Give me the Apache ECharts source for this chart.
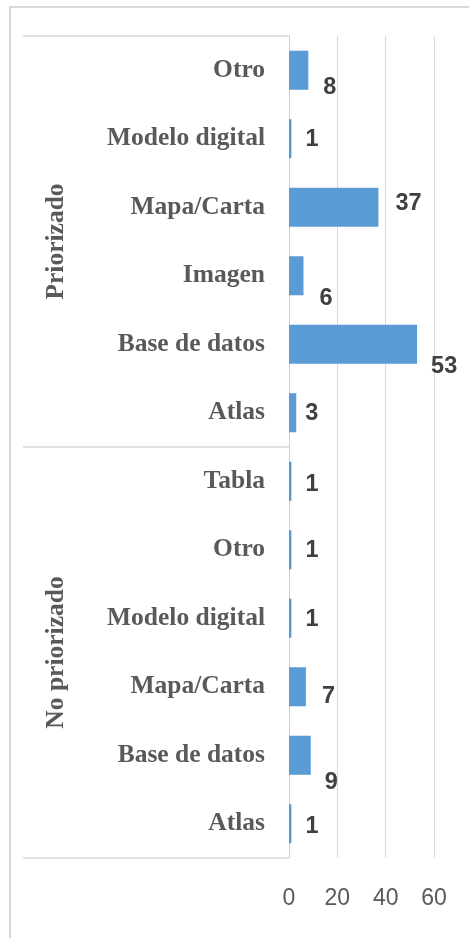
<!DOCTYPE html>
<html>
<head>
<meta charset="utf-8">
<script src="https://cdn.jsdelivr.net/npm/echarts@6/dist/echarts.min.js"></script>
<style>html,body{margin:0;padding:0;background:#fff}#c{width:469px;height:938px}</style>
</head>
<body>
<div id="c"></div>
<script>
// Data (bottom to top, as drawn by the category axis)
var groups = ['No priorizado', 'Priorizado'];
var subNo = ['Atlas', 'Base de datos', 'Mapa/Carta', 'Modelo digital', 'Otro', 'Tabla'];
var valuesNo = [1, 9, 7, 1, 1, 1];
var subP = ['Atlas', 'Base de datos', 'Imagen', 'Mapa/Carta', 'Modelo digital', 'Otro'];
var valuesP = [3, 53, 6, 37, 1, 8];
var xTicks = [0, 20, 40, 60];

// label placement tweaks (style only)
var labelOffsets = [[14,3],[14,27],[16,10],[14,1],[14,1],[14,3],[9,1],[14,22],[16,23],[17,-4],[14,1],[15,17]];

var cats = subNo.map(function(s){return 'N|' + s;}).concat(subP.map(function(s){return 'P|' + s;}));
var vals = valuesNo.concat(valuesP);
var seriesData = vals.map(function(v, i){
  return {value: v, label: {offset: labelOffsets[i]}};
});

var chart = echarts.init(document.getElementById('c'));
chart.setOption({
  animation: false,
  backgroundColor: '#ffffff',
  grid: {left: 289, right: 35, top: 36, bottom: 80, containLabel: false},
  xAxis: {
    type: 'value', min: xTicks[0], max: xTicks[xTicks.length - 1], interval: xTicks[1] - xTicks[0],
    axisLine: {show: false}, axisTick: {show: false},
    splitLine: {lineStyle: {color: '#d9d9d9', width: 1}},
    axisLabel: {fontFamily: 'Liberation Sans, Arial, sans-serif', fontSize: 23, color: '#595959', margin: 29}
  },
  yAxis: [{
    type: 'category', data: cats, position: 'left',
    axisLine: {show: true, lineStyle: {color: '#d0d0d0', width: 1}},
    axisTick: {show: false},
    axisLabel: {
      fontFamily: 'Liberation Serif, Times New Roman, serif', fontWeight: 'bold', fontSize: 25.5,
      color: '#595959', margin: 24, padding: [4, 0, 0, 0],
      formatter: function(v){ return v.split('|')[1]; }
    }
  }, {
    type: 'category', data: groups, position: 'left', offset: 266,
    axisLine: {show: false},
    axisTick: {show: true, inside: true, length: 266, lineStyle: {color: '#d9d9d9', width: 1.5}},
    axisLabel: {
      inside: true, rotate: 90, margin: 20,
      fontFamily: 'Liberation Serif, Times New Roman, serif', fontWeight: 'bold', fontSize: 25.5, color: '#595959'
    }
  }],
  series: [{
    type: 'bar', yAxisIndex: 0, data: seriesData,
    barCategoryGap: '43%',
    itemStyle: {color: '#5b9bd5'},
    label: {
      show: true, position: 'right', distance: 0,
      fontFamily: 'Liberation Sans, Arial, sans-serif', fontWeight: 'bold', fontSize: 23.5, color: '#404040'
    }
  }],
  graphic: [{
    type: 'rect', silent: true, z: 100,
    shape: {x: 10, y: 7, width: 600, height: 1200},
    style: {fill: 'none', stroke: '#d9d9d9', lineWidth: 2}
  }]
});
</script>
</body>
</html>
